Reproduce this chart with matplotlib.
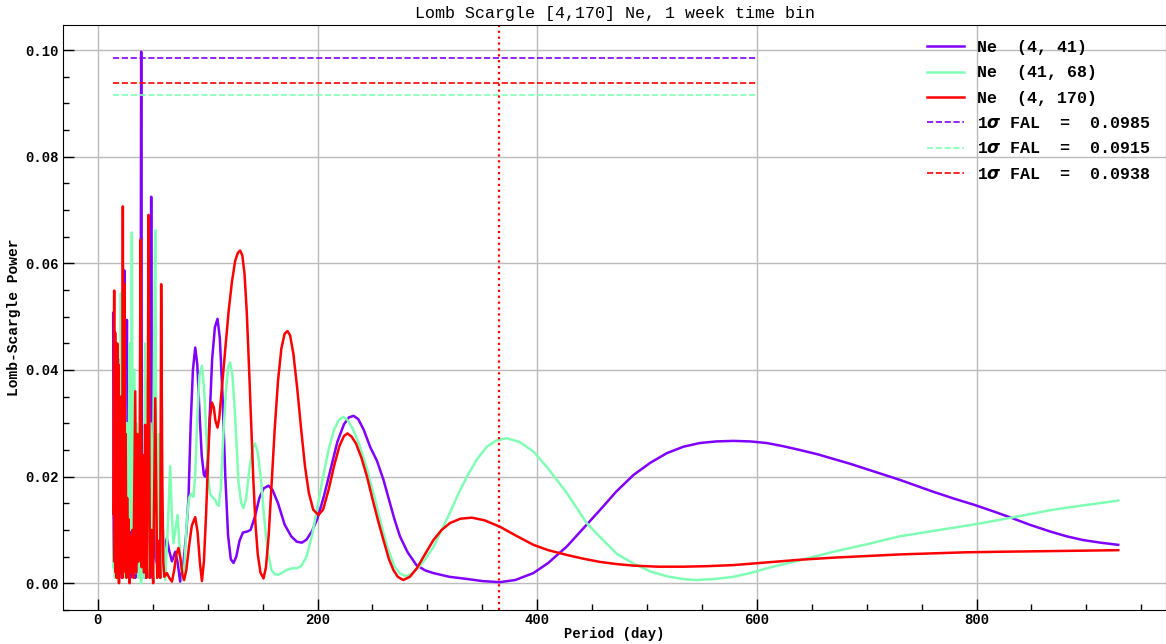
import numpy as np
import matplotlib.pyplot as plt
from matplotlib.ticker import MultipleLocator, FormatStrFormatter

# Ne (4, 41)  -- period (day), Lomb-Scargle power
period_a = [13.9, 14.5, 15.3, 16.0, 16.8, 17.5, 18.3, 18.9, 19.4, 20.1, 21.0, 21.8, 22.8, 23.5,
            24.0, 24.6, 25.4, 26.4, 27.3, 28.4, 29.5, 30.6, 31.6, 32.8, 34.0, 35.2, 36.4, 37.6,
            38.6, 39.4, 40.2, 41.5, 42.8, 44.0, 45.3, 46.5, 47.5, 48.5, 49.6, 51.0, 52.2, 54.5,
            56.7, 59.5, 62.8, 65.0, 67.4, 70.4, 72.5, 74.9, 78.0, 80.5, 82.5, 84.5, 86.5, 88.6,
            90.5, 92.5, 94.5, 96.5, 97.7, 99.5, 101.5, 104.0, 106.5, 108.9, 111.0, 113.5, 116.0,
            118.5, 121.0, 123.5, 126.0, 129.0, 132.0, 136.0, 139.0, 143.0, 147.0, 151.0, 155.3,
            159.0, 164.0, 170.0, 176.0, 181.0, 185.7, 190.0, 195.0, 200.0, 206.0, 212.0, 218.0,
            224.0, 228.5, 232.7, 237.0, 242.0, 248.0, 254.0, 260.0, 266.0, 270.0, 275.0, 282.0,
            290.0, 298.0, 305.5, 320.0, 336.0, 350.0, 366.0, 380.0, 396.5, 410.0, 427.0, 442.0,
            457.0, 472.0, 487.6, 503.0, 518.0, 533.0, 548.0, 563.0, 578.6, 594.0, 609.0, 624.0,
            639.0, 655.0, 670.0, 685.0, 700.0, 715.0, 730.0, 745.0, 760.0, 779.0, 798.0, 815.0,
            830.0, 848.0, 867.0, 882.0, 897.0, 913.0, 929.0]
power_a = [0.0507, 0.004, 0.030, 0.002, 0.025, 0.001, 0.035, 0.003, 0.0419, 0.002, 0.025, 0.001,
           0.030, 0.005, 0.0587, 0.002, 0.020, 0.0494, 0.002, 0.015, 0.001, 0.020, 0.002, 0.012,
           0.001, 0.025, 0.002, 0.018, 0.004, 0.0997, 0.002, 0.015, 0.001, 0.020, 0.003, 0.030,
           0.005, 0.0725, 0.001, 0.012, 0.005, 0.0030, 0.0024, 0.0060, 0.0084, 0.0060, 0.0041,
           0.0059, 0.0040, 0.0003, 0.0040, 0.0095, 0.0162, 0.0300, 0.0400, 0.0442, 0.0410,
           0.0320, 0.0240, 0.0203, 0.0200, 0.0220, 0.0300, 0.0420, 0.0480, 0.0496, 0.0460,
           0.0350, 0.0200, 0.0090, 0.0045, 0.0038, 0.0050, 0.0080, 0.0095, 0.0097, 0.0100,
           0.0125, 0.0160, 0.0178, 0.0183, 0.0175, 0.0150, 0.0110, 0.0088, 0.0078, 0.0076,
           0.0082, 0.0098, 0.0122, 0.0165, 0.0215, 0.0265, 0.0298, 0.0311, 0.0314, 0.0308,
           0.0288, 0.0255, 0.0230, 0.0194, 0.0150, 0.0120, 0.0088, 0.0058, 0.0034, 0.0024,
           0.0019, 0.0012, 0.0008, 0.0004, 0.0002, 0.0006, 0.0019, 0.0038, 0.0069, 0.0103,
           0.0137, 0.0172, 0.0203, 0.0226, 0.0244, 0.0256, 0.0263, 0.0266, 0.0267, 0.0266,
           0.0263, 0.0257, 0.0250, 0.0242, 0.0233, 0.0224, 0.0214, 0.0204, 0.0194, 0.0183,
           0.0172, 0.0159, 0.0147, 0.0135, 0.0124, 0.0110, 0.0097, 0.0088, 0.0081, 0.0076,
           0.0072]

# Ne (41, 68)
period_b = [14.0, 14.8, 15.5, 16.3, 17.0, 17.8, 18.6, 19.6, 20.3, 20.9, 21.6, 22.5, 23.4, 24.5,
            25.4, 26.5, 27.5, 28.8, 29.8, 30.9, 32.0, 33.2, 34.4, 35.5, 36.8, 38.0, 39.3, 40.5,
            41.8, 43.0, 44.3, 45.5, 46.8, 48.0, 49.5, 51.0, 52.2, 53.8, 55.5, 57.5, 59.5, 61.3,
            63.5, 65.8, 67.5, 68.8, 70.5, 72.5, 75.0, 77.4, 79.0, 81.0, 83.0, 85.0, 87.0, 88.5,
            90.5, 92.5, 94.7, 96.5, 98.5, 100.5, 102.0, 104.0, 106.5, 108.5, 110.0, 112.0, 114.0,
            116.5, 118.5, 120.4, 122.5, 125.0, 128.0, 130.5, 132.5, 135.0, 138.0, 141.0, 143.2,
            145.5, 148.5, 151.5, 154.5, 158.0, 161.0, 164.4, 168.0, 172.0, 176.6, 181.0, 185.0,
            190.0, 195.0, 200.0, 205.0, 210.0, 215.0, 219.0, 223.0, 227.0, 232.0, 238.0, 245.0,
            252.0, 258.0, 264.0, 270.0, 275.0, 280.7, 286.0, 292.0, 298.0, 305.5, 313.0, 320.0,
            328.0, 336.0, 345.0, 354.0, 363.0, 372.3, 384.0, 396.5, 410.0, 427.0, 445.0, 457.0,
            472.5, 487.6, 503.0, 518.0, 532.0, 545.0, 562.0, 578.6, 594.0, 609.0, 639.0, 669.6,
            700.0, 730.0, 776.0, 800.0, 832.0, 867.0, 897.0, 929.0]
power_b = [0.003, 0.012, 0.001, 0.030, 0.003, 0.025, 0.001, 0.020, 0.004, 0.0544, 0.002, 0.035,
           0.001, 0.040, 0.003, 0.030, 0.001, 0.045, 0.010, 0.0658, 0.003, 0.040, 0.002, 0.030,
           0.001, 0.020, 0.000, 0.015, 0.001, 0.045, 0.003, 0.038, 0.001, 0.030, 0.004, 0.040,
           0.0662, 0.002, 0.028, 0.001, 0.010, 0.0006, 0.010, 0.0220, 0.012, 0.0075, 0.010,
           0.0128, 0.005, 0.0006, 0.0040, 0.0120, 0.0160, 0.0168, 0.0162, 0.0200, 0.0310,
           0.0390, 0.0408, 0.0370, 0.0290, 0.0200, 0.0168, 0.0162, 0.0157, 0.0148, 0.0145,
           0.0180, 0.0270, 0.0360, 0.0405, 0.0414, 0.0390, 0.0310, 0.0190, 0.0150, 0.0141,
           0.0160, 0.0215, 0.0255, 0.0262, 0.0245, 0.0195, 0.0120, 0.0060, 0.0025, 0.0017,
           0.0016, 0.0020, 0.0025, 0.0028, 0.0028, 0.0032, 0.0050, 0.0090, 0.0144, 0.0200,
           0.0250, 0.0288, 0.0305, 0.0312, 0.0307, 0.0290, 0.0260, 0.0215, 0.0160, 0.0110,
           0.0065, 0.0032, 0.0018, 0.0013, 0.0018, 0.0030, 0.0045, 0.0068, 0.0100, 0.0130,
           0.0167, 0.0200, 0.0232, 0.0256, 0.0268, 0.0272, 0.0265, 0.0247, 0.0215, 0.0169,
           0.0113, 0.0087, 0.0055, 0.0037, 0.0022, 0.0013, 0.0008, 0.0006, 0.0008, 0.0012,
           0.0019, 0.0028, 0.0043, 0.0059, 0.0073, 0.0088, 0.0103, 0.0111, 0.0123, 0.0137,
           0.0146, 0.0155]

# Ne (4, 170)
period_c = [14.0, 14.8, 15.2, 15.7, 16.2, 16.7, 17.1, 17.6, 18.1, 18.7, 19.2, 19.8, 20.3, 20.9,
            21.4, 22.0, 22.4, 22.7, 23.1, 23.6, 24.2, 24.7, 25.3, 25.9, 26.6, 27.3, 28.0, 28.8,
            29.6, 30.4, 31.4, 32.3, 33.2, 34.0, 34.8, 35.8, 36.7, 37.8, 38.8, 39.8, 41.0, 42.0,
            43.0, 44.3, 45.2, 46.1, 47.3, 48.8, 50.3, 52.2, 54.0, 55.8, 56.7, 57.6, 58.6, 59.5,
            60.5, 62.8, 65.0, 67.4, 69.5, 71.5, 73.4, 75.3, 77.0, 78.5, 80.5, 83.0, 85.5, 88.6,
            90.8, 92.8, 94.7, 96.5, 98.5, 100.5, 102.0, 103.8, 105.5, 107.0, 108.9, 110.5, 113.0,
            116.0, 119.0, 122.0, 125.0, 127.5, 129.5, 131.5, 133.5, 135.5, 137.5, 139.5, 141.5,
            143.5, 145.5, 148.0, 150.8, 153.0, 155.5, 158.0, 161.0, 164.0, 167.0, 170.0, 172.6,
            175.0, 178.0, 181.5, 185.0, 188.5, 192.0, 196.0, 200.8, 205.0, 210.0, 215.0, 220.0,
            224.0, 227.2, 231.0, 235.0, 240.0, 245.0, 250.0, 255.0, 260.0, 265.0, 269.0, 273.0,
            278.0, 284.0, 290.4, 298.0, 305.5, 313.0, 320.7, 330.0, 340.5, 352.0, 366.0, 380.0,
            396.5, 410.0, 427.0, 442.0, 457.0, 472.0, 487.6, 510.0, 533.0, 555.0, 578.6, 609.0,
            639.0, 670.0, 700.0, 730.0, 760.7, 790.0, 821.0, 860.0, 895.0, 929.0]
power_c = [0.013, 0.0549, 0.004, 0.047, 0.002, 0.040, 0.001, 0.045, 0.003, 0.041, 0.000, 0.030,
           0.002, 0.035, 0.005, 0.020, 0.001, 0.0707, 0.002, 0.030, 0.0561, 0.003, 0.028, 0.001,
           0.016, 0.004, 0.012, 0.000, 0.009, 0.002, 0.010, 0.001, 0.020, 0.036, 0.002, 0.028,
           0.004, 0.012, 0.0644, 0.003, 0.024, 0.002, 0.0297, 0.001, 0.020, 0.0691, 0.001, 0.010,
           0.000, 0.0347, 0.001, 0.008, 0.001, 0.0561, 0.020, 0.004, 0.0012, 0.0019, 0.0010,
           0.0003, 0.0025, 0.0055, 0.0066, 0.0045, 0.0015, 0.0006, 0.0025, 0.0070, 0.0108,
           0.0124, 0.0095, 0.0040, 0.0004, 0.0040, 0.0130, 0.0240, 0.0310, 0.0339, 0.0330,
           0.0305, 0.0292, 0.0310, 0.0370, 0.0440, 0.0510, 0.0565, 0.0605, 0.0620, 0.0624,
           0.0615, 0.0580, 0.0510, 0.0410, 0.0300, 0.0195, 0.0110, 0.0055, 0.0020, 0.0009,
           0.0030, 0.0090, 0.0180, 0.0290, 0.0380, 0.0440, 0.0468, 0.0473, 0.0465, 0.0430,
           0.0365, 0.0290, 0.0220, 0.0170, 0.0138, 0.0128, 0.0138, 0.0175, 0.0220, 0.0258,
           0.0276, 0.0281, 0.0275, 0.0262, 0.0235, 0.0200, 0.0158, 0.0118, 0.0081, 0.0045,
           0.0025, 0.0012, 0.0006, 0.0012, 0.0028, 0.0055, 0.0081, 0.0100, 0.0113, 0.0121,
           0.0123, 0.0118, 0.0106, 0.0090, 0.0072, 0.0062, 0.0053, 0.0046, 0.0040, 0.0036,
           0.0033, 0.0031, 0.0031, 0.0032, 0.0034, 0.0039, 0.0044, 0.0048, 0.0051, 0.0054,
           0.0056, 0.0058, 0.0059, 0.0060, 0.0061, 0.0062]

labels = ['Ne  (4, 41)', 'Ne  (41, 68)', 'Ne  (4, 170)']
fal = [0.0985, 0.0915, 0.0938]
colors = ['#8000ff', '#80ffb4', '#ff0000']
fal_end = 600
year = 365.25

mono = 'Liberation Mono'
plt.rcParams['mathtext.fontset'] = 'dejavusans'

fig = plt.figure(figsize=(11.66, 6.44), dpi=100)
ax = fig.add_axes([0.0543, 0.053, 0.9457, 0.908])

for p, pw, c, lab in zip([period_a, period_b, period_c], [power_a, power_b, power_c], colors, labels):
    ax.plot(p, pw, color=c, lw=1.8, label=lab)

pmin = min(period_a)
for f, c in zip(fal, colors):
    ax.hlines(f, pmin, fal_end, colors=c, linestyles='--', lw=1.2,
              label=r'1$\boldsymbol{\sigma}$ FAL  =  ' + f'{f:.4f}')

ax.axvline(year, color='red', ls=':', lw=1.6)

ax.set_xlim(-31.5, 972.5)
ax.set_ylim(-0.005, 0.1047)
ax.xaxis.set_major_locator(MultipleLocator(200))
ax.xaxis.set_minor_locator(MultipleLocator(50))
ax.yaxis.set_major_locator(MultipleLocator(0.02))
ax.yaxis.set_minor_locator(MultipleLocator(0.005))
ax.yaxis.set_major_formatter(FormatStrFormatter('%.2f'))
ax.tick_params(which='both', direction='in', labelsize=10)
ax.tick_params(which='major', length=8, width=1)
ax.tick_params(which='minor', length=4, width=1)
ax.tick_params(axis='x', which='both', pad=2)
for lbl in ax.get_xticklabels() + ax.get_yticklabels():
    lbl.set_family(mono)
    lbl.set_fontweight('bold')
ax.grid(True, which='major', color='#bbbbbb', lw=1)
ax.set_axisbelow(True)

ax.set_title('Lomb Scargle [4,170] Ne, 1 week time bin', family=mono, fontsize=12, pad=5)
ax.set_xlabel('Period (day)', family=mono, fontweight='bold', fontsize=10, labelpad=0)
ax.set_ylabel('Lomb-Scargle Power', family=mono, fontweight='bold', fontsize=10.5, labelpad=3)

ax.legend(loc='upper right', bbox_to_anchor=(1.0, 1.0), frameon=False,
          prop={'family': mono, 'weight': 'bold', 'size': 12},
          handlelength=2.2, handletextpad=0.8, labelspacing=0.62)

fig.savefig('out.png', dpi=100)
